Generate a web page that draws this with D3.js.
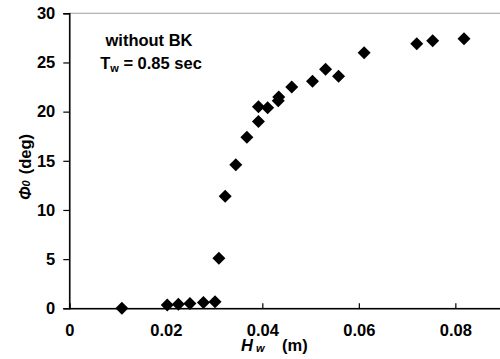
<!DOCTYPE html>
<html><head><meta charset="utf-8">
<script src="https://cdn.jsdelivr.net/npm/d3@7"></script>
<style>body{margin:0;background:#fff}svg{display:block;font-family:"Liberation Sans",Arial,sans-serif;font-weight:bold}</style>
</head><body><svg id="c" width="500" height="359"></svg>
<script>
const hw =  [0.0109,0.0203,0.0226,0.0250,0.0278,0.0302,0.0310,0.0323,0.0345,0.0368,0.0392,0.0392,0.0411,0.0433,0.0434,0.0461,0.0504,0.0531,0.0558,0.0611,0.0720,0.0753,0.0818];
const phi = [0,0.34,0.40,0.50,0.60,0.67,5.1,11.4,14.6,17.4,19.0,20.5,20.4,21.1,21.5,22.5,23.1,24.3,23.6,26.0,26.9,27.2,27.4];
const xTicks = [0,0.02,0.04,0.06,0.08];
const xTickLabels = ["0","0.02","0.04","0.06","0.08"];
const yTicks = [0,5,10,15,20,25,30];

const svg = d3.select("#c");
const x = d3.scaleLinear().domain([0,0.09]).range([69.3,503.6]);
const y = d3.scaleLinear().domain([0,30]).range([308.3,13.3]);

// frame
svg.append("rect").attr("x",x(0)).attr("y",y(30)).attr("width",x(0.09)-x(0)).attr("height",y(0)-y(30))
  .attr("fill","none").attr("stroke","#b0b0b0").attr("stroke-width",1.2);

// x axis
const xa = svg.append("g").attr("transform",`translate(0,${y(0)})`)
  .call(d3.axisBottom(x).tickValues(xTicks).tickSize(-5).tickPadding(16).tickFormat((d,i)=>xTickLabels[i]));
xa.select(".domain").attr("stroke","#000").attr("stroke-width",1.5);
xa.selectAll(".tick line").attr("stroke","#000").attr("stroke-width",1.2);
xa.selectAll("text").attr("font-size","16.5px").attr("font-weight","bold").attr("font-family","Liberation Sans, Arial, sans-serif").attr("fill","#000");

// y axis
const ya = svg.append("g").attr("transform",`translate(${x(0)},0)`)
  .call(d3.axisLeft(y).tickValues(yTicks).tickSize(6).tickPadding(8));
ya.select(".domain").attr("stroke","#000").attr("stroke-width",1.5);
ya.selectAll(".tick line").attr("stroke","#000").attr("stroke-width",1.2);
ya.selectAll("text").attr("font-size","16.5px").attr("font-weight","bold").attr("font-family","Liberation Sans, Arial, sans-serif").attr("fill","#000");

// points
svg.append("g").selectAll("path").data(hw).join("path")
  .attr("transform",(d,i)=>`translate(${x(d)},${y(phi[i])})`)
  .attr("d","M0,-6.5L6.5,0L0,6.5L-6.5,0Z").attr("fill","#000");

// annotations
const ann = svg.append("g").attr("font-size","16.5px").attr("fill","#000");
ann.append("text").attr("x",149).attr("y",46).attr("text-anchor","middle").text("without BK");
const t2 = ann.append("text").attr("x",151).attr("y",69).attr("text-anchor","middle");
t2.append("tspan").text("T");
t2.append("tspan").attr("font-size","11px").attr("dy",3).text("w");
t2.append("tspan").attr("dy",-3).text(" = 0.85 sec");

// x title
const xt = svg.append("text").attr("x",241).attr("y",351).attr("font-size","16.5px");
xt.append("tspan").attr("font-style","italic").text("H");
xt.append("tspan").attr("font-style","italic").attr("font-size","11px").attr("dx",3).attr("dy",1).text("w");
xt.append("tspan").attr("x",282).attr("dy",-1).text("(m)");

// y title
const yt = svg.append("text").attr("transform","translate(31,200) rotate(-90)").attr("font-size","16.5px");
yt.append("tspan").attr("font-style","italic").text("Φ");
yt.append("tspan").attr("font-style","italic").attr("font-size","11px").attr("dy",-1).text("0");
yt.append("tspan").attr("dx",6).attr("dy",1).text("(deg)");
</script></body></html>
